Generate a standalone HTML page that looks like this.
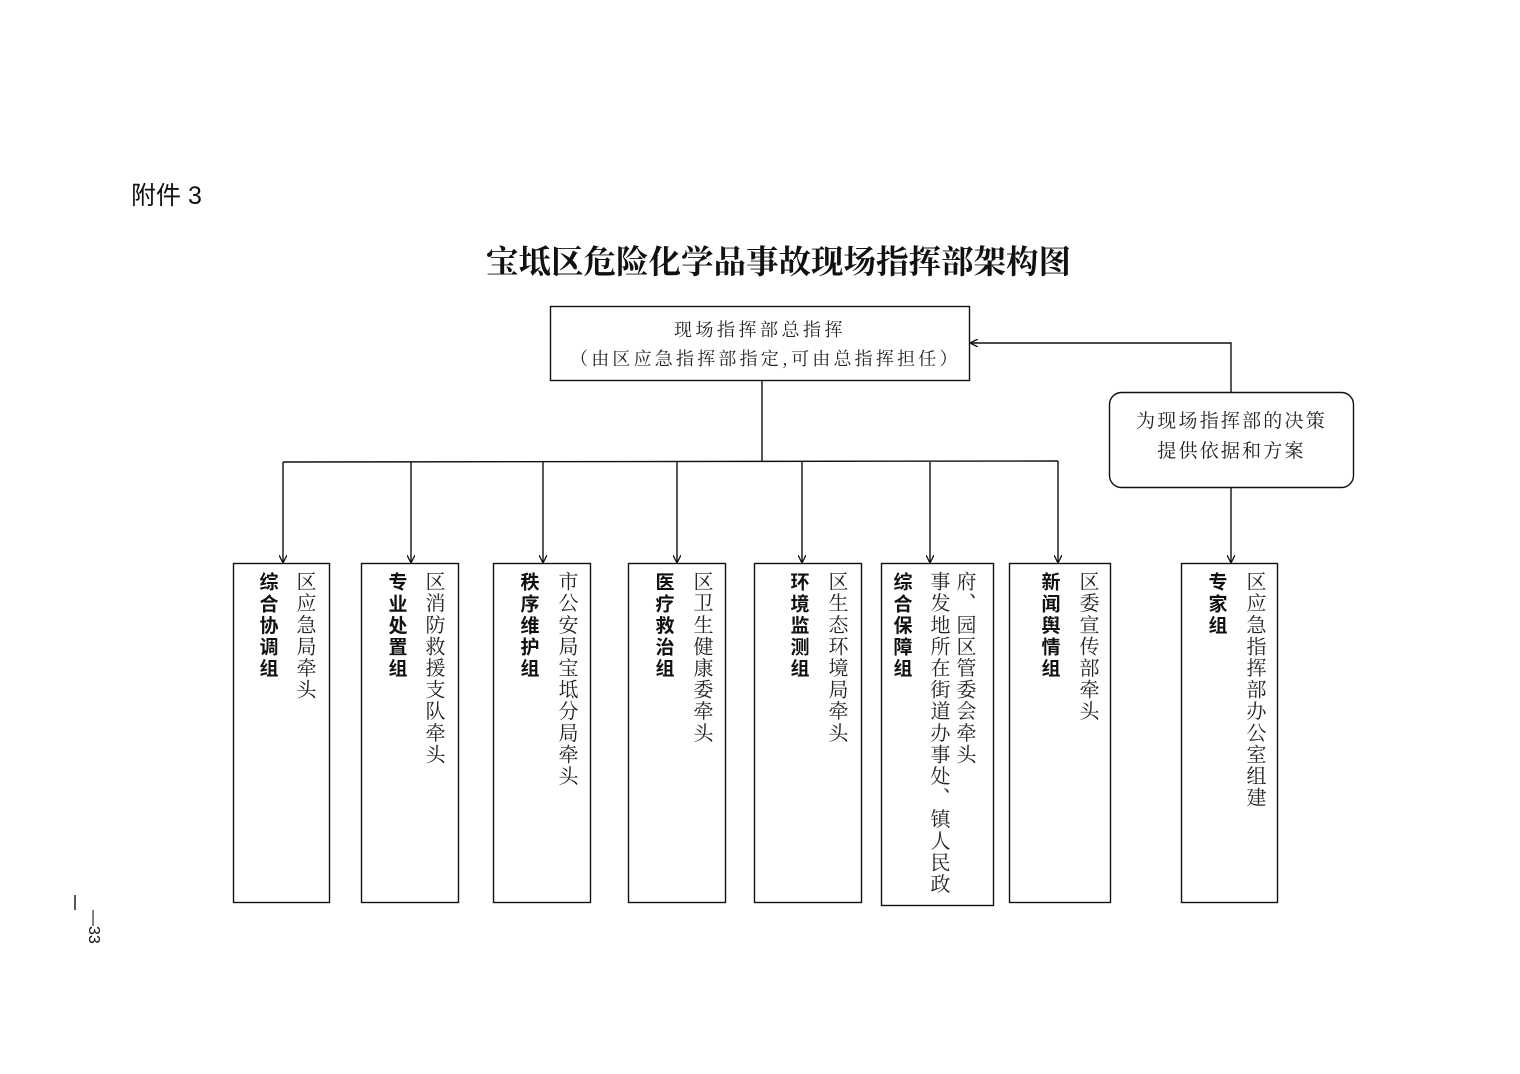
<!DOCTYPE html>
<html><head><meta charset="utf-8"><style>
body{margin:0;width:1520px;height:1074px;background:#fff;position:relative;overflow:hidden;font-family:"Liberation Serif","Noto Serif CJK SC","Noto Sans CJK SC",serif;color:#111}
.a{position:absolute;white-space:nowrap}
.v{position:absolute;writing-mode:vertical-rl;font-size:20px;letter-spacing:1.6px;line-height:1;transform:translateX(-50%)}
.b{font-family:"Noto Sans CJK SC","WenQuanYi Zen Hei",sans-serif;font-weight:bold;font-size:19px;letter-spacing:2.6px}
.r{font-family:"Noto Serif CJK SC","Noto Sans CJK SC",serif;color:#222}
</style></head><body>
<svg class="a" style="left:0;top:0" width="1520" height="1074">
<defs><marker id="m" markerWidth="8" markerHeight="8" refX="7" refY="4" orient="auto" markerUnits="userSpaceOnUse"><path d="M0,0 L8,4 L0,8" fill="none" stroke="#111" stroke-width="1.3"/></marker></defs>
<g fill="none" stroke="#111" stroke-width="1.4">
<rect x="550.5" y="306.5" width="419" height="74"/>
<rect x="1109.5" y="392.5" width="244" height="95" rx="12"/>
<rect x="233.5" y="563.5" width="96" height="339"/>
<rect x="361.5" y="563.5" width="97" height="339"/>
<rect x="493.5" y="563.5" width="97" height="339"/>
<rect x="628.5" y="563.5" width="97" height="339"/>
<rect x="754.5" y="563.5" width="107" height="339"/>
<rect x="881.5" y="563.5" width="112" height="342"/>
<rect x="1009.5" y="563.5" width="101" height="339"/>
<rect x="1181.5" y="563.5" width="96" height="339"/>
<line x1="762" y1="381" x2="762" y2="462"/>
<line x1="283" y1="462" x2="1058" y2="461"/>
<line x1="283" y1="462" x2="283" y2="562" marker-end="url(#m)"/>
<line x1="411" y1="462" x2="411" y2="562" marker-end="url(#m)"/>
<line x1="543" y1="462" x2="543" y2="562" marker-end="url(#m)"/>
<line x1="677" y1="462" x2="677" y2="562" marker-end="url(#m)"/>
<line x1="802" y1="462" x2="802" y2="562" marker-end="url(#m)"/>
<line x1="930" y1="462" x2="930" y2="562" marker-end="url(#m)"/>
<line x1="1058" y1="461" x2="1058" y2="562" marker-end="url(#m)"/>
<polyline points="1231,392 1231,343 971,343" marker-end="url(#m)"/>
<line x1="1231" y1="488" x2="1231" y2="562" marker-end="url(#m)"/>
<line x1="75" y1="895" x2="75" y2="910"/>
</g>
</svg>
<div class="a" style="left:131px;top:176px;font-size:25px;font-family:'Liberation Sans','Noto Sans CJK SC',sans-serif">附件 3</div>
<div class="a" style="left:486px;top:237px;font-size:32.5px;font-weight:bold;font-family:'Noto Serif CJK SC','Noto Sans CJK SC',serif;letter-spacing:0px">宝坻区危险化学品事故现场指挥部架构图</div>
<div class="a r" style="left:550px;width:420px;text-align:center;top:316px;font-size:18px;letter-spacing:3.5px">现场指挥部总指挥</div>
<div class="a r" style="left:570px;top:345px;font-size:18px;letter-spacing:3.2px">（由区应急指挥部指定,可由总指挥担任）</div>
<div class="a r" style="left:1109px;width:245px;text-align:center;top:405px;font-size:19px;letter-spacing:2.2px;line-height:30px">为现场指挥部的决策<br>提供依据和方案</div>

<div class="v b" style="left:269px;top:572px">综合协调组</div>
<div class="v r" style="left:306px;top:571px">区应急局牵头</div>
<div class="v b" style="left:398px;top:572px">专业处置组</div>
<div class="v r" style="left:435px;top:571px">区消防救援支队牵头</div>
<div class="v b" style="left:530px;top:572px">秩序维护组</div>
<div class="v r" style="left:568px;top:571px">市公安局宝坻分局牵头</div>
<div class="v b" style="left:665px;top:572px">医疗救治组</div>
<div class="v r" style="left:703px;top:571px">区卫生健康委牵头</div>
<div class="v b" style="left:800px;top:572px">环境监测组</div>
<div class="v r" style="left:838px;top:571px">区生态环境局牵头</div>
<div class="v b" style="left:903px;top:572px">综合保障组</div>
<div class="v r" style="left:940px;top:571px">事发地所在街道办事处、镇人民政</div>
<div class="v r" style="left:966px;top:571px">府、园区管委会牵头</div>
<div class="v b" style="left:1051px;top:572px">新闻舆情组</div>
<div class="v r" style="left:1089px;top:571px">区委宣传部牵头</div>
<div class="v b" style="left:1218px;top:572px">专家组</div>
<div class="v r" style="left:1256px;top:571px">区应急指挥部办公室组建</div>

<div class="a" style="top:910px;font-size:16px;font-family:'Liberation Sans',sans-serif;transform:rotate(90deg);transform-origin:left top;left:102px">—33</div>
</body></html>
